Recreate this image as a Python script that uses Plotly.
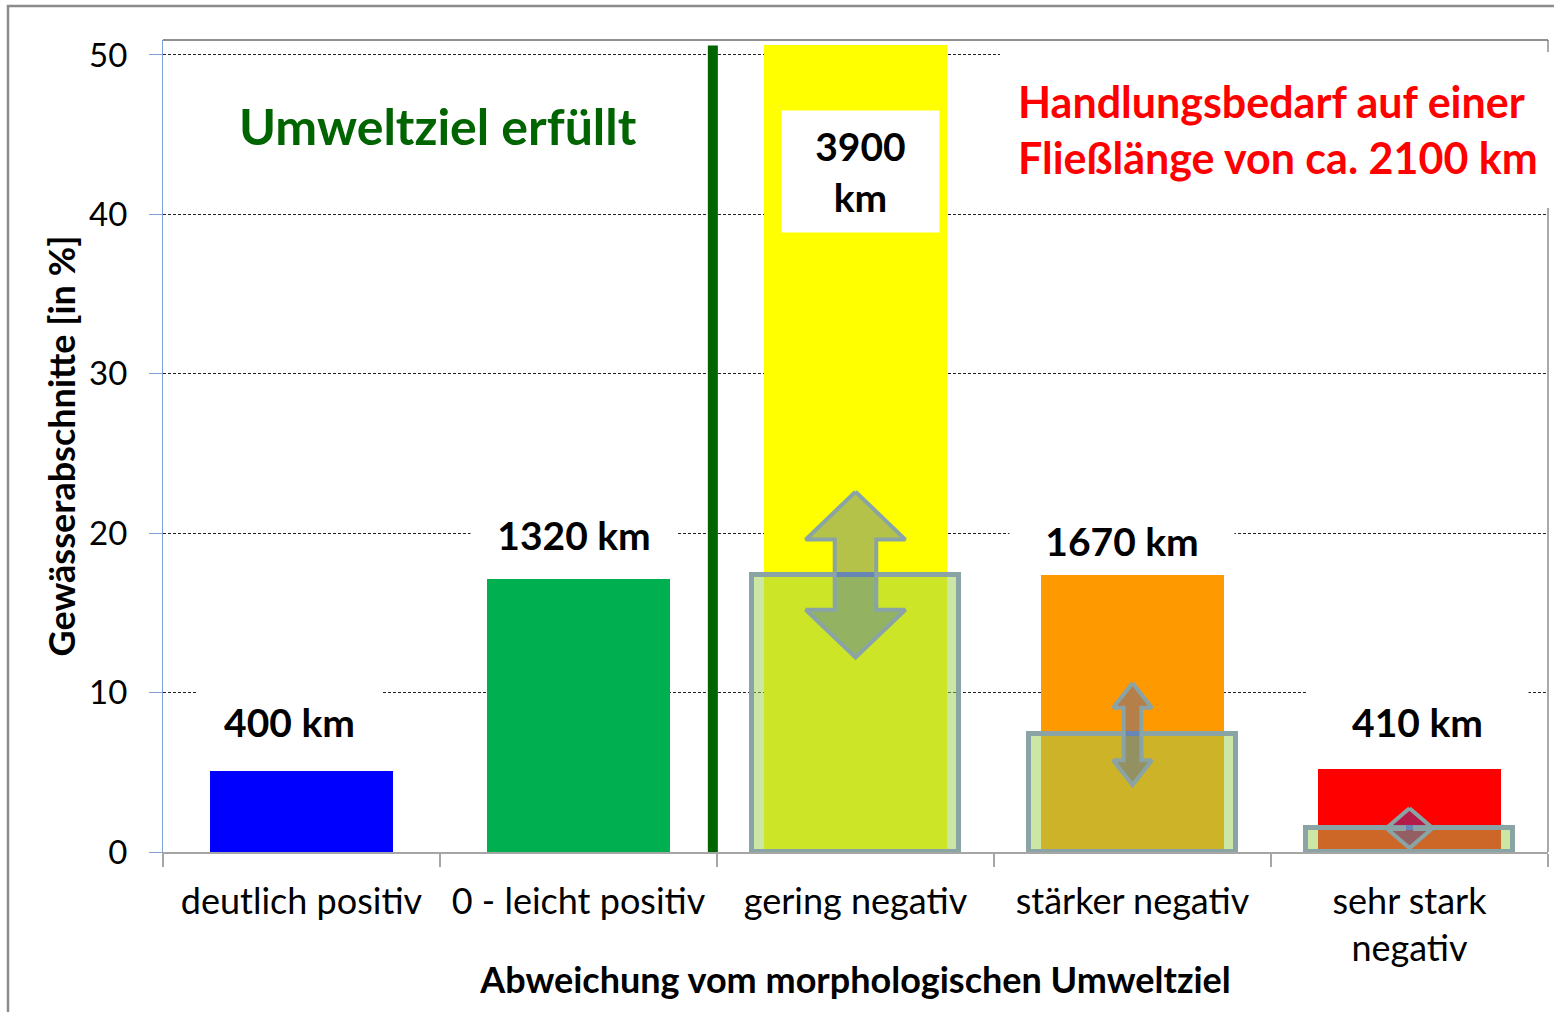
import plotly.graph_objects as go

# ---------------- data ----------------
categories = ["deutlich positiv", "0 - leicht positiv", "gering negativ",
              "stärker negativ", "sehr stark<br>negativ"]
share_pct = [5.1, 17.1, 50.6, 17.4, 5.2]          # Anteil Gewässerabschnitte [%]
length_km = [400, 1320, 3900, 1670, 410]           # Fließlänge je Klasse
target_pct = [None, None, 17.4, 7.4, 1.5]          # Zielzustand (Rahmen)
spread_pct = [None, None, 5.2, 3.2, 1.25]          # Spannweite (Doppelpfeil)
y_ticks = [0, 10, 20, 30, 40, 50]

# ---------------- styles ----------------
bar_colors = ["#0000ff", "#00b050", "#ffff00", "#ff9900", "#ff0000"]
FONT = "Lato, 'Open Sans', sans-serif"
GREY_LINE = "#8aa4a6"
# arrow shapes: (head half width, shaft half width, head length) per category
arrow_style = [None, None, (0.18, 0.075, 3.0), (0.07, 0.032, 1.55), (0.08, 0.02, 1.2)]
# km label placement (x shift px, y shift px, box width, box height)
label_style = [(-12, 49, 183, 62), (-5, 44, 206, 62), None, (-11, 34, 224, 62), (8, 47, 221, 62)]

fig = go.Figure()

fig.add_trace(go.Bar(
    x=categories, y=share_pct, width=0.66,
    marker=dict(color=bar_colors, line=dict(width=0)),
    showlegend=False, hoverinfo="x+y"))

fig.add_trace(go.Bar(
    x=categories, y=target_pct, width=0.745,
    marker=dict(color="rgba(153,205,78,0.5)", line=dict(color=GREY_LINE, width=5)),
    showlegend=False, hoverinfo="x+y"))


def double_arrow(xc, yc, half_len, head_hw, shaft_hw, head_len):
    top, bot = yc + half_len, yc - half_len
    xs = [xc, xc + head_hw, xc + shaft_hw, xc + shaft_hw, xc + head_hw, xc,
          xc - head_hw, xc - shaft_hw, xc - shaft_hw, xc - head_hw, xc]
    ys = [top, top - head_len, top - head_len, bot + head_len, bot + head_len, bot,
          bot + head_len, bot + head_len, top - head_len, top - head_len, top]
    return xs, ys


for i, (t, s) in enumerate(zip(target_pct, spread_pct)):
    if t is None:
        continue
    hw, sw, hl = arrow_style[i]
    xs, ys = double_arrow(i, t, s, hw, sw, hl)
    fig.add_trace(go.Scatter(
        x=xs, y=ys, xaxis="x2", yaxis="y", mode="lines", fill="toself",
        fillcolor="rgba(40,80,210,0.35)", line=dict(color=GREY_LINE, width=4),
        showlegend=False, hoverinfo="skip"))

annotations = []
for i, km in enumerate(length_km):
    st = label_style[i]
    if st is None:
        annotations.append(dict(
            x=i, y=42.7, xref="x", yref="y", text=f"<b>{km}<br>km</b>",
            showarrow=False, xshift=5, bgcolor="white", width=157, height=121,
            borderpad=0, font=dict(family=FONT, size=39, color="black")))
    else:
        dx, dy, w, h = st
        annotations.append(dict(
            x=i, y=share_pct[i], xref="x", yref="y", text=f"<b>{km} km</b>",
            showarrow=False, xshift=dx, yshift=dy, yanchor="middle",
            bgcolor="white", width=w, height=h, borderpad=0,
            font=dict(family=FONT, size=39, color="black")))

annotations.append(dict(
    x=(438 - 163) / 1385, y=(852 - 126) / 812, xref="paper", yref="paper",
    xanchor="center", yanchor="middle",
    text="<b>Umweltziel erfüllt</b>", showarrow=False,
    font=dict(family=FONT, size=50, color="#006400")))

annotations.append(dict(
    x=(1016 - 163) / 1385, y=(852 - 129) / 812, xref="paper", yref="paper",
    xanchor="left", yanchor="middle", align="left",
    text="<b>Handlungsbedarf auf einer<br>Fließlänge von ca. 2100 km</b>",
    showarrow=False, font=dict(family=FONT, size=43, color="#ff0000")))

shapes = [
    # outer chart frame
    dict(type="rect", xref="paper", yref="paper", x0=(8 - 163) / 1385, x1=1.2,
         y0=-0.4, y1=(852 - 6) / 812, line=dict(color="#8c8c8c", width=2.5),
         fillcolor="rgba(0,0,0,0)", layer="below"),
    # plot frame top / right
    dict(type="line", xref="paper", yref="paper", x0=0, x1=1, y0=1, y1=1,
         line=dict(color="#222222", width=1)),
    dict(type="line", xref="paper", yref="paper", x0=1, x1=1, y0=0, y1=1,
         line=dict(color="#555555", width=1)),
    # white panel behind red text
    dict(type="rect", xref="paper", yref="paper", x0=(1000 - 163) / 1385, x1=1.2,
         y0=(852 - 208) / 812, y1=(852 - 52) / 812, line=dict(width=0),
         fillcolor="white", layer="above"),
    # green divider
    dict(type="line", xref="x2", yref="y", x0=1.485, x1=1.485, y0=0,
         y1=max(share_pct), line=dict(color="#006400", width=10), layer="above"),
]

fig.update_layout(
    width=1554, height=1012,
    margin=dict(l=163, r=6, t=40, b=160, autoexpand=False),
    paper_bgcolor="white", plot_bgcolor="white",
    barmode="overlay", bargap=0,
    font=dict(family=FONT, color="black"),
    xaxis=dict(
        type="category", range=[-0.5, 4.5], tickson="boundaries",
        ticks="outside", ticklen=13, tickcolor="#a6a6a6", tickwidth=1.5,
        showline=True, linecolor="#a6a6a6", linewidth=1.5, showgrid=False,
        tickfont=dict(family=FONT, size=36, color="black"),
        ticklabelstandoff=17,
        title=dict(text="<b>Abweichung vom morphologischen Umweltziel</b>",
                   font=dict(family=FONT, size=36, color="black"), standoff=0)),
    xaxis2=dict(overlaying="x", range=[-0.5, 4.5], visible=False, anchor="y"),
    yaxis=dict(
        range=[0, 50.94], tickvals=y_ticks, ticks="outside", ticklen=13,
        tickcolor="#7f9fd8", showline=True, linecolor="#7f9fd8", linewidth=1,
        showgrid=True, gridcolor="#222222", gridwidth=1, griddash="3px,2px",
        zeroline=False, tickfont=dict(family=FONT, size=33, color="black"),
        ticklabelstandoff=15,
        title=dict(text="<b>Gewässerabschnitte [in %]</b>",
                   font=dict(family=FONT, size=36, color="black"), standoff=2)),
    annotations=annotations,
    shapes=shapes,
)

fig.write_html("out.html", config={"displayModeBar": False},
               post_script="document.body.style.margin='0';")
